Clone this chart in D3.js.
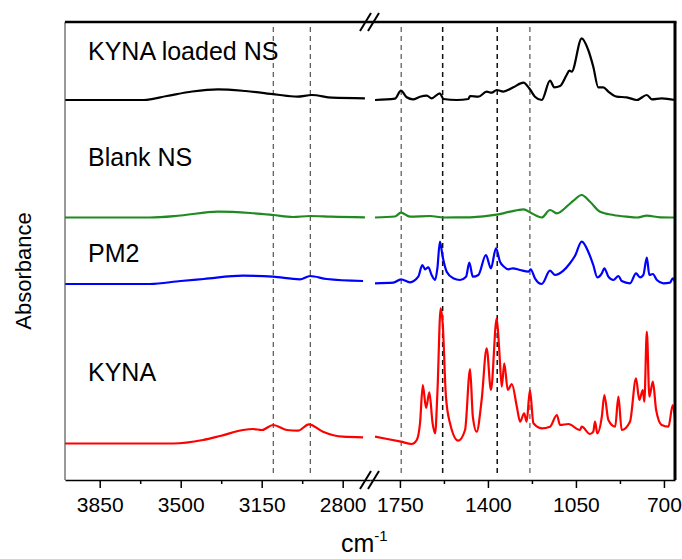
<!DOCTYPE html>
<html>
<head>
<meta charset="utf-8">
<script src="https://cdn.jsdelivr.net/npm/d3@7"></script>
<style>
body { margin: 0; background: #fff; }
svg { font-family: "Liberation Sans", Arial, sans-serif; }
</style>
</head>
<body>
<svg></svg>
<script>
// spectra: [wavenumber, absorbance], split at the axis break
var blackLeft = [[4000,0],[3660,0],[3560,0.04],[3450,0.085],[3340,0.107],[3220,0.09],[3093,0.057],[2997,0.033],[2933,0.05],[2846,0.023],[2704,0.017]];
var blackRight = [[1849,0],[1770,0.013],[1746,0.093],[1723,0.027],[1698,0.007],[1670,0.033],[1643,0.043],[1624,0.017],[1591,0.067],[1577,0.01],[1524,0],[1478,0.01],[1471,0.04],[1438,0.033],[1405,0.083],[1385,0.073],[1365,0.10],[1339,0.083],[1299,0.127],[1259,0.173],[1233,0.107],[1213,0.033],[1186,0],[1153,0.193],[1136,0.127],[1113,0.14],[1087,0.25],[1076,0.293],[1067,0.283],[1027,0.617],[1001,0.50],[981,0.333],[961,0.127],[941,0.127],[921,0.083],[888,0.033],[848,0.027],[808,0],[768,0.05],[748,0.007],[709,0.017],[656,0]];

var greenLeft = [[4000,0],[3633,0],[3500,0.02],[3340,0.058],[3200,0.045],[3101,0.025],[3015,0.005],[2941,0.015],[2850,0.008],[2704,0.002]];
var greenRight = [[1849,0],[1770,0.01],[1746,0.048],[1710,0.008],[1630,0.015],[1577,0],[1471,0.002],[1365,0.028],[1312,0.058],[1259,0.082],[1226,0.042],[1186,0],[1153,0.075],[1126,0.042],[1080,0.125],[1060,0.168],[1027,0.225],[994,0.158],[954,0.058],[901,0.025],[848,0.008],[808,0],[768,0.018],[715,0.002],[656,0]];

var blueLeft = [[4000,0],[3633,0],[3500,0.03],[3400,0.05],[3231,0.083],[3101,0.073],[2985,0.047],[2941,0.08],[2869,0.05],[2712,0.03]];
var blueRight = [[1849,0.007],[1776,0.013],[1746,0.047],[1710,0.017],[1677,0.073],[1661,0.19],[1650,0.147],[1637,0.167],[1624,0.09],[1610,0.04],[1601,0.157],[1591,0.423],[1580,0.273],[1564,0.123],[1538,0.057],[1511,0.04],[1487,0.073],[1474,0.213],[1460,0.073],[1438,0.09],[1408,0.29],[1388,0.157],[1368,0.357],[1352,0.223],[1336,0.173],[1319,0.147],[1301,0.157],[1272,0.14],[1239,0.123],[1230,0.147],[1213,0.057],[1186,0],[1153,0.133],[1133,0.09],[1100,0.133],[1076,0.20],[1054,0.28],[1027,0.423],[1001,0.323],[981,0.19],[965,0.067],[947,0.107],[937,0.157],[921,0.073],[901,0.04],[881,0.08],[868,0.03],[835,0.007],[811,0.107],[795,0.067],[782,0.09],[768,0.263],[758,0.09],[744,0.10],[728,0.04],[702,0.007],[676,0.013],[665,0.057],[656,0.023]];

var redLeft = [[4000,0],[3533,0],[3404,0.035],[3330,0.075],[3231,0.135],[3188,0.145],[3149,0.135],[3101,0.185],[3041,0.135],[2993,0.128],[2946,0.192],[2885,0.118],[2799,0.068],[2712,0.062]];
var redRight = [[1849,0.068],[1800,0.045],[1746,0.018],[1703,-0.005],[1683,0.035],[1670,0.205],[1659,0.585],[1646,0.355],[1633,0.512],[1620,0.202],[1610,0.102],[1601,0.505],[1588,1.352],[1580,1.205],[1567,0.468],[1551,0.205],[1518,0.028],[1491,0.135],[1471,0.745],[1460,0.268],[1445,0.118],[1425,0.435],[1405,0.952],[1388,0.535],[1365,1.252],[1355,0.935],[1345,0.568],[1335,0.802],[1321,0.535],[1305,0.595],[1285,0.368],[1272,0.218],[1256,0.302],[1246,0.218],[1233,0.535],[1219,0.202],[1186,0.152],[1153,0.168],[1126,0.285],[1113,0.185],[1080,0.195],[1034,0.135],[1027,0.168],[994,0.095],[981,0.118],[974,0.218],[965,0.102],[947,0.268],[937,0.485],[921,0.235],[894,0.168],[881,0.468],[868,0.135],[835,0.218],[811,0.652],[798,0.435],[784,0.535],[778,0.418],[768,1.118],[758,0.468],[744,0.618],[731,0.335],[709,0.185],[682,0.168],[665,0.385],[656,0.252]];

// series names and vertical stacking offsets
var names = ["KYNA loaded NS", "Blank NS", "PM2", "KYNA"];
var offsets = [3.80, 2.625, 1.96, 0.365];

// tick labels
var leftTicks = [3850, 3500, 3150, 2800];
var leftMinor = [3675, 3325, 2975];
var rightTicks = [1750, 1400, 1050, 700];
var rightMinor = [1575, 1225, 875];

// marker wavenumbers (dashed lines)
var dashLeft = [3100, 2940];
var dashRight = [1745, 1580, 1363, 1233];

var series = [
    {name: names[0], left: blackLeft, right: blackRight, off: offsets[0], color: "#000000"},
    {name: names[1], left: greenLeft, right: greenRight, off: offsets[1], color: "#1f8a1f"},
    {name: names[2], left: blueLeft, right: blueRight, off: offsets[2], color: "#0000ff"},
    {name: names[3], left: redLeft, right: redRight, off: offsets[3], color: "#ff0000"}
];

var svgWidth = 682, svgHeight = 559;
var plotL = 65, plotR = 675, plotT = 22, plotB = 480, breakX = 370;

var svg = d3.select("svg")
    .attr("width", svgWidth)
    .attr("height", svgHeight);

// two x scales for the broken axis
var xLeft = d3.scaleLinear().domain([4000, 2682]).range([plotL, breakX]);
var xRight = d3.scaleLinear().domain([1869, 656]).range([breakX, plotR]);
var y = d3.scaleLinear().domain([0, 4.58]).range([plotB, plotT]);

// dashed marker lines
var dashes = dashLeft.map(function(w) { return {x: xLeft(w), dark: false}; })
    .concat(dashRight.map(function(w, i) { return {x: xRight(w), dark: i == 1 || i == 2}; }));
svg.selectAll(".dash")
    .data(dashes)
    .enter().append("line")
    .attr("x1", function(d) { return d.x; })
    .attr("x2", function(d) { return d.x; })
    .attr("y1", 27)
    .attr("y2", 475)
    .attr("stroke", function(d) { return d.dark ? "#111" : "#444"; })
    .attr("stroke-width", function(d) { return d.dark ? 1.5 : 1.1; })
    .attr("stroke-dasharray", "5,4");

// spectra
var lineL = d3.line().curve(d3.curveMonotoneX);
var lineR = d3.line().curve(d3.curveMonotoneX);

series.forEach(function(s) {
    lineL.x(function(d) { return xLeft(d[0]); }).y(function(d) { return y(s.off + d[1]); });
    lineR.x(function(d) { return xRight(d[0]); }).y(function(d) { return y(s.off + d[1]); });
    svg.append("path").attr("d", lineL(s.left))
        .attr("fill", "none").attr("stroke", s.color).attr("stroke-width", 2.2);
    svg.append("path").attr("d", lineR(s.right))
        .attr("fill", "none").attr("stroke", s.color).attr("stroke-width", 2.2);
});

// frame
svg.append("line").attr("x1", plotL).attr("x2", plotL).attr("y1", plotT).attr("y2", plotB)
    .attr("stroke", "#555").attr("stroke-width", 1.2);
svg.append("line").attr("x1", plotL).attr("x2", plotR + 1.5).attr("y1", plotT).attr("y2", plotT)
    .attr("stroke", "#000").attr("stroke-width", 2.6);
svg.append("line").attr("x1", plotR).attr("x2", plotR).attr("y1", plotT).attr("y2", plotB)
    .attr("stroke", "#000").attr("stroke-width", 3);

// bottom axes
function styleAxis(g) {
    g.selectAll("path").attr("stroke", "#000").attr("stroke-width", 1.6);
    g.selectAll("line").attr("stroke", "#000").attr("stroke-width", 1.5);
    g.selectAll("text").attr("font-size", 21).attr("fill", "#000")
        .attr("font-family", "Liberation Sans, Arial, sans-serif");
}
[[xLeft, leftTicks, leftMinor], [xRight, rightTicks, rightMinor]].forEach(function(a) {
    var major = svg.append("g").attr("transform", "translate(0," + plotB + ")")
        .call(d3.axisBottom(a[0]).tickValues(a[1]).tickSize(8).tickSizeOuter(0)
            .tickPadding(9).tickFormat(d3.format("d")));
    styleAxis(major);
    var minor = svg.append("g").attr("transform", "translate(0," + plotB + ")")
        .call(d3.axisBottom(a[0]).tickValues(a[2]).tickSize(4).tickFormat(""));
    minor.select(".domain").remove();
    styleAxis(minor);
});

// break marks "//" on top and bottom
[plotT, plotB].forEach(function(yc) {
    [-10, -2].forEach(function(dx) {
        svg.append("line")
            .attr("x1", breakX + dx).attr("y1", yc + 9)
            .attr("x2", breakX + dx + 11).attr("y2", yc - 9)
            .attr("stroke", "#000").attr("stroke-width", 2);
    });
});

// series labels
var labelY = [60, 166, 262, 381];
svg.selectAll(".lbl")
    .data(series)
    .enter().append("text")
    .attr("x", 88)
    .attr("y", function(d, i) { return labelY[i]; })
    .attr("font-size", 25)
    .attr("fill", "#000")
    .text(function(d) { return d.name; });

// axis titles
svg.append("text")
    .attr("transform", "translate(31,271) rotate(-90)")
    .attr("text-anchor", "middle")
    .attr("font-size", 22)
    .text("Absorbance");

var xt = svg.append("text")
    .attr("x", 341)
    .attr("y", 552)
    .attr("font-size", 25)
    .text("cm");
xt.append("tspan")
    .attr("dy", -11)
    .attr("font-size", 15)
    .text("-1");
</script>
</body>
</html>
